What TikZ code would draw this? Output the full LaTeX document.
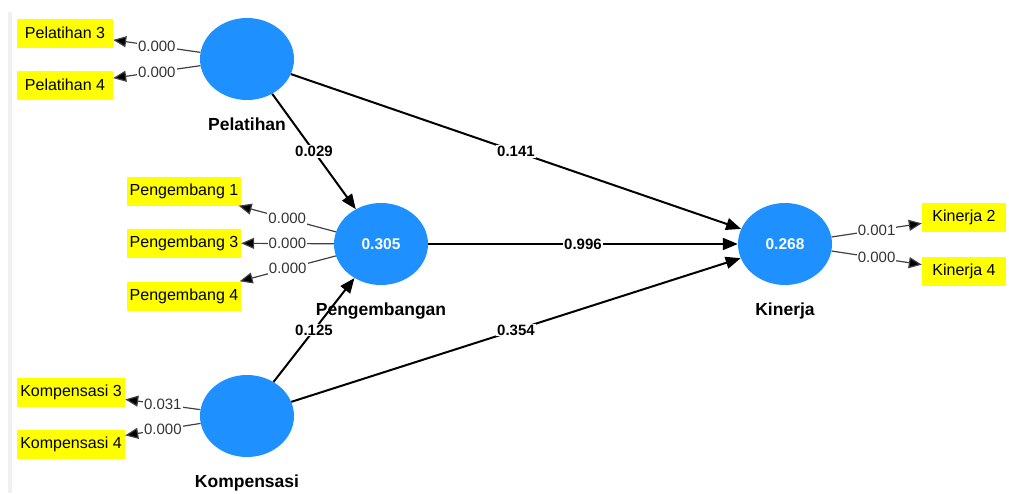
\documentclass[tikz,border=0pt]{standalone}
\usepackage{fontspec}
\setmainfont{Liberation Sans}
\usetikzlibrary{arrows.meta,shapes.geometric}

\definecolor{lvblue}{RGB}{30,144,255}
\definecolor{mvyellow}{RGB}{255,255,0}

\tikzset{
  latent/.style={ellipse, fill=lvblue, minimum width=94pt, minimum height=82pt,
    inner sep=0pt, text=white, font=\fontsize{15.5}{18}\selectfont\bfseries},
  lvname/.style={inner sep=0pt, yshift=-17pt, text=black, font=\fontsize{17.5}{20}\selectfont\bfseries},
  indicator/.style={rectangle, fill=mvyellow, minimum height=29pt, inner sep=0pt,
    font=\fontsize{16}{19}\selectfont},
  structural/.style={line width=2pt, -{Triangle[length=15pt,width=12pt]}},
  loading/.style={line width=1.2pt, draw=black!75, -{Triangle[length=13pt,width=11pt,fill=black]}},
  coef/.style={fill=white, inner sep=1pt, font=\fontsize{15}{18}\selectfont\bfseries},
  weight/.style={fill=white, inner sep=1pt, text=black!80, font=\fontsize{15}{18}\selectfont}
}

\begin{document}
\begin{tikzpicture}[x=1pt, y=1pt]
\useasboundingbox (0,0) rectangle (1009,-493);
\fill[black!6] (8,-12) rectangle (12,-493);

\node[latent, label={[lvname]below:Pelatihan}] (pel) at (247,-59) {};
\node[latent, label={[lvname]below:Pengembangan}] (peng) at (381,-244) {0.305};
\node[latent, label={[lvname]below:Kompensasi}] (komp) at (247,-416) {};
\node[latent, label={[lvname]below:Kinerja}] (kin) at (785,-244) {0.268};

\node[indicator, minimum width=96pt] (p3) at (65,-33) {Pelatihan 3};
\node[indicator, minimum width=96pt] (p4) at (65,-85) {Pelatihan 4};
\node[indicator, minimum width=114pt] (g1) at (184,-191) {Pengembang 1};
\node[indicator, minimum width=114pt] (g3) at (184,-243) {Pengembang 3};
\node[indicator, minimum width=114pt] (g4) at (184,-296) {Pengembang 4};
\node[indicator, minimum width=108pt] (k3) at (71,-392) {Kompensasi 3};
\node[indicator, minimum width=108pt] (k4) at (71,-444) {Kompensasi 4};
\node[indicator, minimum width=84pt] (n2) at (964,-217) {Kinerja 2};
\node[indicator, minimum width=84pt] (n4) at (964,-271) {Kinerja 4};

\draw[loading] (pel) -- node[weight]{0.000} (p3);
\draw[loading] (pel) -- node[weight]{0.000} (p4);
\draw[loading] (peng) -- node[weight]{0.000} (g1);
\draw[loading] (peng) -- node[weight]{0.000} (g3);
\draw[loading] (peng) -- node[weight]{0.000} (g4);
\draw[loading] (komp) -- node[weight]{0.031} (k3);
\draw[loading] (komp) -- node[weight]{0.000} (k4);
\draw[loading] (kin) -- node[weight]{0.001} (n2);
\draw[loading] (kin) -- node[weight]{0.000} (n4);

\draw[structural] (pel) -- node[coef]{0.029} (peng);
\draw[structural] (pel) -- node[coef]{0.141} (kin);
\draw[structural] (peng) -- node[coef]{0.996} (kin);
\draw[structural] (komp) -- node[coef]{0.125} (peng);
\draw[structural] (komp) -- node[coef]{0.354} (kin);
\end{tikzpicture}
\end{document}
